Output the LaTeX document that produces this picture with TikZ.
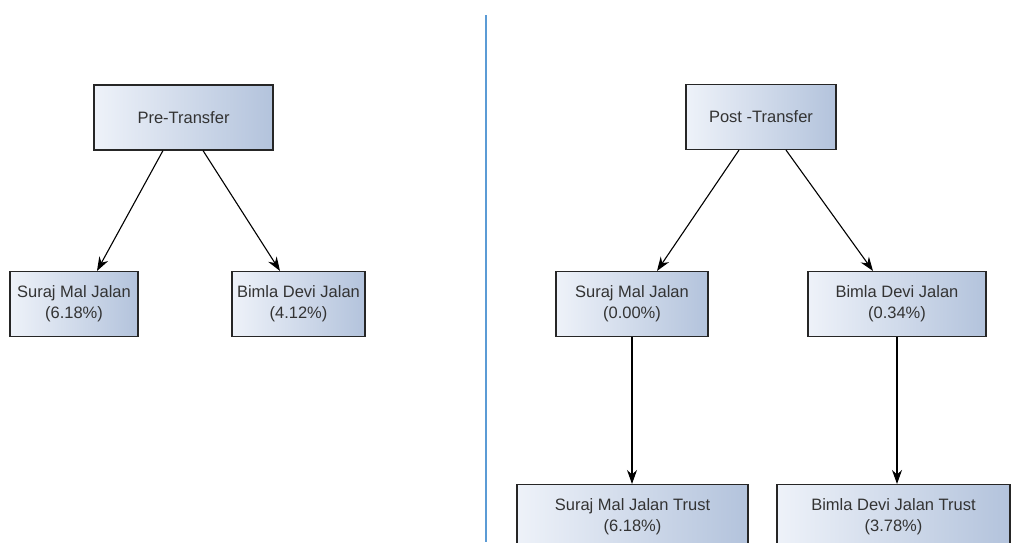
\documentclass[tikz,border=0pt]{standalone}
\usepackage{fontspec}
\setmainfont{Liberation Sans}
\usetikzlibrary{arrows.meta}
\definecolor{boxlight}{HTML}{EEF2F9}
\definecolor{boxdark}{HTML}{B3C3DC}
\definecolor{divider}{HTML}{5B9BD5}
\definecolor{boxtext}{HTML}{333333}
\tikzset{
  box/.style = {draw=black!85, line width=1.1pt, left color=boxlight, right color=boxdark,
                minimum height=65pt, align=center, text=boxtext,
                font=\fontsize{16.5}{21}\selectfont},
  arr/.style = {-{Stealth[length=14pt,width=10pt]}, line width=1.1pt}
}
\begin{document}
\begin{tikzpicture}[x=1pt, y=-1pt]
                \useasboundingbox (0,0) rectangle (1011,542);
                \clip (0,0) rectangle (1011,542);

                % left tree
                \node (pre) [box, minimum width=179pt] at (183.5,117.5) {Pre-Transfer};
                \node (surajL) [box, minimum width=128pt] at (74,304) {Suraj Mal Jalan\\(6.18\%)};
                \node (bimlaL) [box, minimum width=133pt] at (298.5,304) {Bimla Devi Jalan\\(4.12\%)};

                % right tree
                \node (post) [box, minimum width=150pt] at (761,117) {Post -Transfer};
                \node (surajR) [box, minimum width=152pt] at (632,304) {Suraj Mal Jalan\\(0.00\%)};
                \node (bimlaR) [box, minimum width=178pt] at (897,304) {Bimla Devi Jalan\\(0.34\%)};
                \node (surajT) [box, minimum width=231pt] at (632.5,517) {Suraj Mal Jalan Trust\\(6.18\%)};
                \node (bimlaT) [box, minimum width=233pt] at (893.5,517) {Bimla Devi Jalan Trust\\(3.78\%)};

                \coordinate (top) at (486,15);
                \coordinate (bottom) at (486,542);
                \draw[divider, line width=1.3pt] (top) -- (bottom);

                \draw[arr] ([xshift=-20.5pt]pre.south) -- ([xshift=23pt]surajL.north);
                \draw[arr] ([xshift=19.5pt]pre.south) -- ([xshift=-18.5pt]bimlaL.north);

                \draw[arr] ([xshift=-22pt]post.south) -- ([xshift=25pt]surajR.north);
                \draw[arr] ([xshift=25pt]post.south) -- ([xshift=-24pt]bimlaR.north);

                \draw[arr] (surajR.south) -- (surajR.south |- surajT.north);
                \draw[arr] (bimlaR.south) -- (bimlaR.south |- bimlaT.north);
            \end{tikzpicture}
\end{document}
